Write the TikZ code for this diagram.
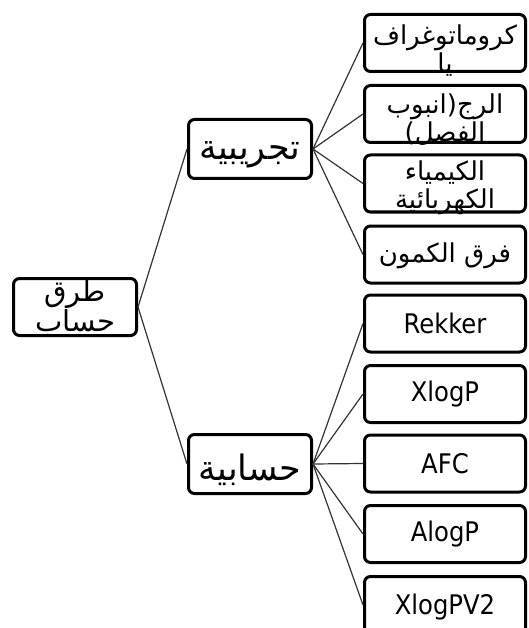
\documentclass[tikz,border=0pt]{standalone}
\usepackage{fontspec}
\newfontfamily\arfont[Script=Arabic]{DejaVu Sans}
\newfontfamily\latfont{DejaVu Sans Condensed}
\TeXXeTstate=1
\begin{document}
\begin{tikzpicture}[x=1pt,y=-1pt,
  box/.style={draw=black, line width=3pt, rounded corners=6pt, inner sep=0pt, fill=white},
  leafbox/.style={box, minimum width=161pt, minimum height=57pt},
  midbox/.style={box, minimum width=123pt, minimum height=59pt},
  conn/.style={draw=black!80, line width=1.2pt},
  artxt/.style={font=\arfont\fontsize{26}{28}\selectfont, align=center, inner sep=0pt},
  midtxt/.style={font=\arfont\fontsize{35}{36}\selectfont, align=center, inner sep=0pt},
  roottxt/.style={font=\arfont\fontsize{29}{28}\selectfont, align=center, inner sep=0pt},
  lattxt/.style={font=\latfont\fontsize{27}{28}\selectfont, inner sep=0pt}]
\useasboundingbox (0,0) rectangle (528,628);
\clip (0,0) rectangle (528,628);
% boxes
\node[box, minimum width=123pt, minimum height=57pt] (root) at (75,307) {};
\node[midbox] (m1) at (250,149) {};
\node[midbox] (m2) at (250,464) {};
\node[leafbox] (l1) at (445,43) {};
\node[leafbox] (l2) at (445,114) {};
\node[leafbox] (l3) at (445,183.5) {};
\node[leafbox] (l4) at (445,254.5) {};
\node[leafbox] (l5) at (445,323.5) {};
\node[leafbox] (l6) at (445,394) {};
\node[leafbox] (l7) at (445,463.5) {};
\node[leafbox] (l8) at (445,534) {};
\node[leafbox] (l9) at (445,605) {};
% connectors
\draw[conn] (root.east) -- (m1.west);
\draw[conn] (root.east) -- (m2.west);
\foreach \i in {1,2,3,4} {\draw[conn] (m1.east) -- (l\i.west);}
\foreach \i in {5,6,7,8,9} {\draw[conn] (m2.east) -- (l\i.west);}
% texts
\node[roottxt] (troot) at ([yshift=-1pt]root.center) {\beginR طرق\endR\\\beginR حساب\endR};
\node[midtxt] (tm1) at ([yshift=-6pt]m1.center) {\beginR تجريبية\endR};
\node[midtxt] (tm2) at ([yshift=-6pt]m2.center) {\beginR حسابية\endR};
\node[artxt] (t1) at ([yshift=-8pt]l1.center) {\beginR كروماتوغراف\endR\\\beginR يا\endR};
\node[artxt] (t2) at ([yshift=-6pt]l2.center) {\beginR الرج(انبوب\endR\\\beginR الفصل)\endR};
\node[artxt] (t3) at ([yshift=-4pt]l3.center) {\beginR الكيمياء\endR\\\beginR الكهربائية\endR};
\node[artxt] (t4) at ([yshift=-1pt]l4.center) {\beginR فرق الكمون\endR};
\node[lattxt] (t5) at (l5) {Rekker};
\node[lattxt] (t6) at (l6) {XlogP};
\node[lattxt] (t7) at (l7) {AFC};
\node[lattxt] (t8) at (l8) {AlogP};
\node[lattxt] (t9) at ([yshift=-2pt]l9.center) {XlogPV2};
\end{tikzpicture}
\end{document}
